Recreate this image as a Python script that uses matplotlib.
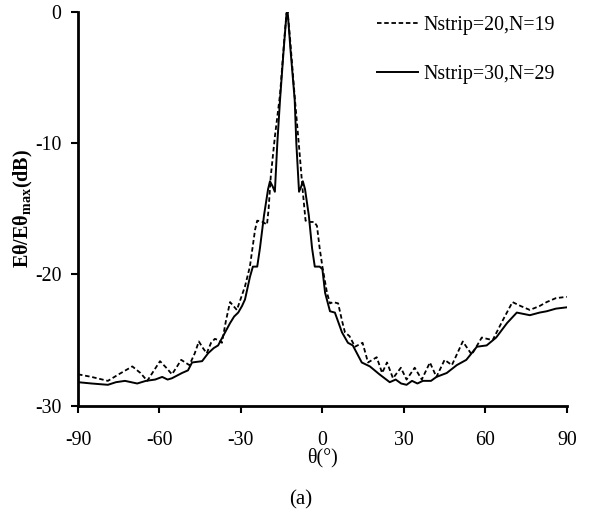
import matplotlib
matplotlib.use("Agg")
import matplotlib.pyplot as plt

plt.rcParams['font.family'] = ['Liberation Serif', 'DejaVu Serif']
plt.rcParams['axes.unicode_minus'] = False
plt.rcParams['mathtext.fontset'] = 'custom'
plt.rcParams['mathtext.bf'] = 'Liberation Serif:bold'
plt.rcParams['mathtext.rm'] = 'Liberation Serif'

# Nstrip=20, N=19 (dashed)
theta_20 = [-90, -85, -79, -75, -70, -67, -64.5, -62, -59.8, -57.5, -55.4, -53.5, -52,
            -50.5, -49, -47, -45.5, -44, -42.6, -41, -39.6, -38.3, -37, -35.5, -34,
            -31.5, -28.5, -26.7, -24.8, -24, -22, -20.4, -19.8, -19, -17.5, -15.6, -14,
            -13.2, -12.8, -12, -10.1, -8.5, -7.3, -6.2, -4.8, -3, -2, -1, 0, 1.7, 2.8,
            4, 5.8, 7.2, 8.3, 10, 12, 14.8, 16.8, 20, 22, 23.8, 26, 28.9, 31, 34, 36.6,
            39.6, 42, 45, 47.7, 51.7, 55, 58.7, 62.7, 66.4, 70, 73, 76.4, 80, 82.6, 86, 90]
db_20 = [-27.6, -27.8, -28.1, -27.6, -27.0, -27.5, -28.1, -27.3, -26.6, -27.1, -27.6, -27.0, -26.5,
         -26.7, -26.9, -26.0, -25.1, -25.6, -26.0, -25.2, -24.9, -25.0, -25.2, -23.5, -22.1,
         -22.7, -20.9, -19.4, -16.6, -15.9, -16.0, -16.2, -15.0, -12.5, -9.5, -6.3, -2.0,
         -0.1, 0.0, -1.8, -6.7, -10.5, -13.5, -15.9, -16.0, -16.0, -16.3, -18.0, -19.4, -21.4, -22.2,
         -22.1, -22.2, -23.5, -24.4, -24.7, -25.5, -25.2, -26.7, -26.3, -27.5, -26.7, -27.9, -27.1, -28.0, -27.1, -28.0,
         -26.7, -27.8, -26.5, -26.9, -25.1, -26.1, -24.8, -25.0, -23.5, -22.1, -22.4, -22.7, -22.4, -22.1, -21.8, -21.7]

# Nstrip=30, N=29 (solid)
theta_30 = [-90, -85, -79, -76, -72.7, -68.2, -65, -61.6, -59, -57, -55.4, -51.7, -49.5,
            -48, -44.3, -42.1, -40, -38.4, -36.6, -34, -32.5, -31, -29.6, -28.5, -26.7,
            -25.6, -24, -23, -21.5, -20, -19.3, -18.3, -17.5, -16.6, -15.6, -14.3, -13.2,
            -12.8, -11.7, -10.2, -9.6, -8.6, -7.8, -7.2, -6.4, -5, -3.8, -2.8, -1, 0, 1,
            2.8, 4.6, 7.2, 9.4, 11.2, 14.5, 17.5, 21, 24.8, 27, 29, 31, 33, 35, 37, 40,
            42, 45.8, 49.5, 53, 56.9, 60.5, 64, 68, 71.6, 74, 76.4, 80, 82.6, 86, 90]
db_30 = [-28.2, -28.3, -28.4, -28.2, -28.1, -28.3, -28.1, -28.0, -27.8, -28.0, -27.9, -27.5, -27.3,
         -26.7, -26.6, -26.0, -25.6, -25.4, -24.7, -23.7, -23.2, -22.9, -22.4, -21.9, -20.2,
         -19.4, -19.4, -18.0, -15.5, -13.5, -12.9, -13.3, -13.7, -10.0, -6.7, -3.0, -0.1,
         0.0, -3.0, -6.7, -10.0, -13.7, -13.3, -12.9, -13.5, -15.5, -18.0, -19.4, -19.4, -19.6, -21.4,
         -22.8, -22.9, -24.4, -25.2, -25.4, -26.7, -27.0, -27.6, -28.2, -28.0, -28.3, -28.4, -28.1, -28.3, -28.1, -28.1,
         -27.8, -27.5, -26.9, -26.5, -25.5, -25.4, -24.8, -23.7, -22.9, -23.0, -23.1, -22.9, -22.8, -22.6, -22.5]

xticks = [-90, -60, -30, 0, 30, 60, 90]
yticks = [0, -10, -20, -30]

fig = plt.figure(figsize=(5.91, 5.15), dpi=100)
ax = fig.add_axes([0.132, 0.212, 0.827, 0.765])

ax.plot(theta_20, db_20, color='black', linestyle=(0, (2.5, 1.5)), linewidth=1.3, label='Nstrip=20,N=19')
ax.plot(theta_30, db_30, color='black', linestyle='-', linewidth=1.4, label='Nstrip=30,N=29')

ax.set_xlim(-90, 90)
ax.set_ylim(-30, 0)
ax.set_xticks(xticks)
ax.set_yticks(yticks)
ax.tick_params(direction='out', length=5, width=1.5, labelsize=14.3)
ax.tick_params(axis='x', pad=13)
ax.tick_params(axis='y', pad=7)
for s in ['top', 'right']:
    ax.spines[s].set_visible(False)
for s in ['left', 'bottom']:
    ax.spines[s].set_linewidth(2)
ax.spines['left'].set_bounds(-30, 0)

ax.set_xlabel('θ(°)', fontsize=14.3, labelpad=-1)
ax.set_ylabel(r'Eθ/Eθ$_{\mathbf{max}}$(dB)', fontsize=14.5, fontweight='bold', labelpad=0)

leg = ax.legend(loc='upper left', bbox_to_anchor=(0.611, 0.99), frameon=False, fontsize=14.3,
                handlelength=2.1, handletextpad=0.25, labelspacing=1.5,
                borderpad=0, borderaxespad=0)

fig.text(0.508, 0.029, '(a)', fontsize=15, ha='center', va='center')

fig.savefig('out.png', dpi=100)
